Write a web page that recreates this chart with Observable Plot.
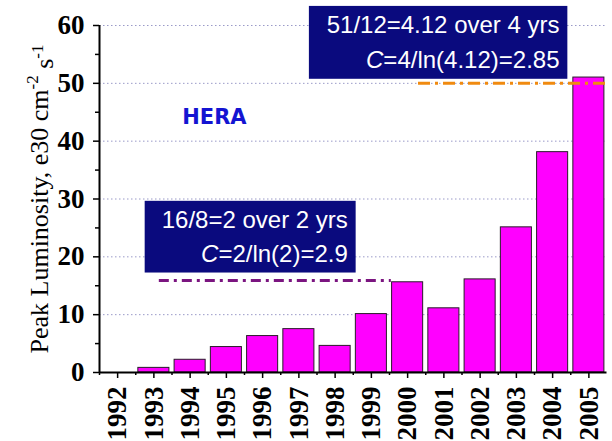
<!DOCTYPE html>
<html><head><meta charset="utf-8">
<script src="https://cdn.jsdelivr.net/npm/d3@7"></script>
<script src="https://cdn.jsdelivr.net/npm/@observablehq/plot@0.6"></script>
<style>body{margin:0;background:#fff;overflow:hidden}</style>
</head><body><div id="chart"></div>
<script>
const years = [1992,1993,1994,1995,1996,1997,1998,1999,2000,2001,2002,2003,2004,2005];
const luminosity = [0,0.8,2.2,4.4,6.3,7.5,4.6,10.1,15.6,11.1,16.1,25.1,38.1,51];
const yTicks = [0,10,20,30,40,50,60];
const yMinorTicks = [5,15,25,35,45,55];
const gridValues = [10,20,30,40,50,60];
const yLabel = "Peak Luminosity, e30 cm-2 s-1";
const boxes = [
  {x1:1997.29, x2:2004.42, y1:50.7, y2:63.3},
  {x1:1992.76, x2:1998.58, y1:17.2, y2:29.6}
];
const boxLines = [
  {x:2004.19, y:60.0, text:"51/12=4.12 over 4 yrs"},
  {x:2004.19, y:53.9, text:"C=4/ln(4.12)=2.85"},
  {x:1998.35, y:26.3, text:"16/8=2 over 2 yrs"},
  {x:1998.35, y:20.5, text:"C=2/ln(2)=2.9"}
];
const trend2yr = [{x1:1993.15, x2:1999.55, y:15.9}];
const trend4yr = [{x1:2000.3, x2:2005.5, y:50.0}];
const heraLabel = [{x:1994.67, y:44.2, text:"HERA"}];

const data = years.map((year, i) => ({year, value: luminosity[i]}));
const serif = "'Liberation Serif','Times New Roman',serif";
const sans = "'Liberation Sans',Arial,sans-serif";

const chart = Plot.plot({
  width: 612,
  height: 441,
  marginLeft: 99,
  marginRight: 5.5,
  marginTop: 25,
  marginBottom: 69,
  style: {background: "#fff", color: "#000", fontFamily: serif},
  x: {type: "linear", domain: [1991.5, 2005.5]},
  y: {domain: [0, 60]},
  marks: [
    Plot.ruleY(gridValues, {stroke: "#9a9ac8", strokeDasharray: "1.5,2.5", strokeWidth: 1}),
    Plot.rectY(data, {x1: d => d.year - 0.5, x2: d => d.year + 0.5, y: "value", insetLeft: 2.6, insetRight: 2.6, fill: "#ff00ff", stroke: "#2a1a2a", strokeWidth: 1}),
    Plot.ruleY(trend2yr, {y: "y", x1: "x1", x2: "x2", stroke: "#7b1580", strokeWidth: 3, strokeDasharray: "10,5,3,5"}),
    Plot.ruleY(trend4yr, {y: "y", x1: "x1", x2: "x2", stroke: "#f08a10", strokeWidth: 3, strokeDasharray: "12,5,3,5"}),
    Plot.rect(boxes, {x1: "x1", x2: "x2", y1: "y1", y2: "y2", fill: "#0a0a7e"}),
    Plot.text(boxLines, {x: "x", y: "y", text: "text", textAnchor: "end", lineAnchor: "middle", fill: "#fff", fontSize: 24, fontFamily: sans}),
    Plot.text(heraLabel, {x: "x", y: "y", text: "text", fill: "#1414d2", fontSize: 21, fontWeight: "bold", fontFamily: "'DejaVu Sans',Verdana,sans-serif"}),
    Plot.axisX({ticks: years, tickFormat: d => String(d), tickRotate: -90, tickSize: 6, tickPadding: 8, fontSize: 27, fontWeight: "bold", strokeWidth: 1.5, label: null}),
    Plot.axisX(years.map(y => y - 0.5), {tickSize: 3, tickFormat: () => "", strokeWidth: 1.5, label: null}),
    Plot.axisY({ticks: yTicks, tickSize: 6, tickPadding: 9, fontSize: 27, fontWeight: "bold", strokeWidth: 1.5, label: null}),
    Plot.axisY(yMinorTicks, {tickSize: 4, tickFormat: () => "", strokeWidth: 1.5, label: null}),
    Plot.ruleX([1991.5], {y1: 0, y2: 60, stroke: "#000", strokeWidth: 2}),
    Plot.ruleY([0], {x1: 1991.5, x2: 2005.5, stroke: "#000", strokeWidth: 2}),
    Plot.text([yLabel], {frameAnchor: "left", textAnchor: "middle", dx: -60, rotate: -90, fontSize: 26, fontFamily: serif, fill: "#000"})
  ]
});

chart.querySelectorAll("text").forEach(t => {
  const s = t.textContent;
  if (s === yLabel) {
    t.innerHTML = 'Peak Luminosity, e30 cm<tspan dy="-0.6em" font-size="17">-2</tspan><tspan dy="0.6em"> s</tspan><tspan dy="-0.6em" font-size="17">-1</tspan>';
  } else if (s.startsWith("C=")) {
    t.innerHTML = '<tspan font-style="italic">C</tspan>' + s.slice(1);
  }
});
document.getElementById("chart").appendChild(chart);
</script>
</body></html>
